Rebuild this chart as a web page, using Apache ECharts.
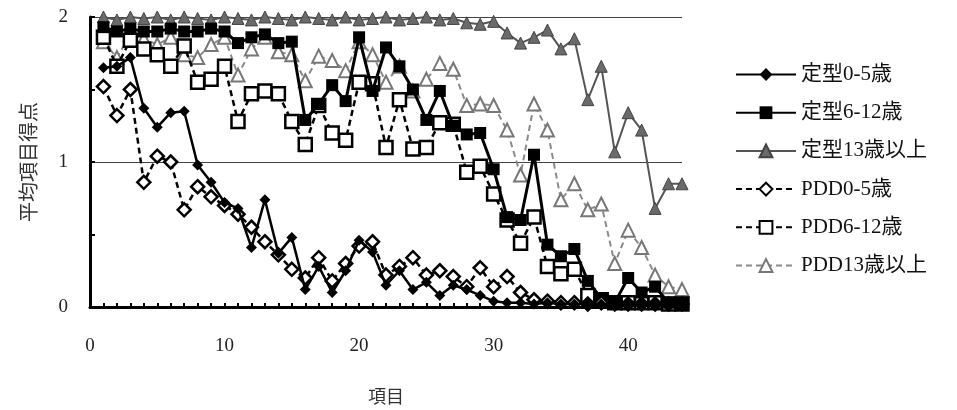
<!DOCTYPE html>
<html>
<head>
<meta charset="utf-8">
<script src="https://cdn.jsdelivr.net/npm/echarts@6/dist/echarts.min.js"></script>
<style>
  html, body { margin: 0; padding: 0; background: #fff; }
  #chart { width: 957px; height: 410px; }
</style>
</head>
<body>
<div id="chart"></div>
<script>
// Item numbers (x) and mean item scores (y) per group
const items = [1,2,3,4,5,6,7,8,9,10,11,12,13,14,15,16,17,18,19,20,21,22,23,24,25,26,27,28,29,30,31,32,33,34,35,36,37,38,39,40,41,42,43,44];

const typical0to5 = [1.65,1.66,1.72,1.37,1.24,1.34,1.35,0.98,0.86,0.72,0.68,0.41,0.74,0.37,0.48,0.12,0.28,0.10,0.25,0.46,0.38,0.15,0.25,0.12,0.17,0.08,0.15,0.12,0.08,0.04,0.03,0.03,0.02,0.03,0.02,0.02,0.02,0.02,0.02,0.02,0.02,0.02,0.02,0.02];
const typical6to12 = [1.93,1.90,1.92,1.90,1.90,1.92,1.90,1.90,1.92,1.90,1.82,1.86,1.88,1.82,1.83,1.29,1.40,1.53,1.42,1.86,1.49,1.79,1.66,1.50,1.29,1.49,1.25,1.19,1.20,0.95,0.62,0.60,1.05,0.43,0.35,0.40,0.18,0.06,0.03,0.20,0.10,0.14,0.03,0.02];
const typical13up = [2.00,1.98,2.00,1.99,2.00,1.98,2.00,1.99,1.98,2.00,1.99,1.98,2.00,1.99,1.98,2.00,1.99,1.98,2.00,1.98,1.99,2.00,1.98,1.99,2.00,1.98,1.99,1.96,1.95,1.97,1.89,1.82,1.86,1.91,1.78,1.85,1.43,1.66,1.07,1.34,1.22,0.68,0.85,0.85];
const pdd0to5 = [1.52,1.32,1.50,0.86,1.04,1.00,0.67,0.83,0.76,0.70,0.64,0.55,0.45,0.36,0.26,0.20,0.34,0.18,0.30,0.42,0.45,0.22,0.28,0.34,0.22,0.25,0.21,0.14,0.27,0.14,0.21,0.10,0.05,0.04,0.03,0.03,0.02,0.03,0.02,0.02,0.02,0.02,0.02,0.02];
const pdd6to12 = [1.86,1.66,1.84,1.78,1.74,1.66,1.80,1.55,1.57,1.66,1.28,1.47,1.49,1.47,1.28,1.12,1.39,1.20,1.15,1.55,1.54,1.10,1.43,1.09,1.10,1.27,1.26,0.93,0.97,0.78,0.60,0.44,0.62,0.28,0.23,0.26,0.08,0.05,0.03,0.03,0.03,0.03,0.02,0.02];
const pdd13up = [1.83,1.72,1.88,1.85,1.81,1.86,1.74,1.72,1.81,1.86,1.60,1.78,1.86,1.76,1.74,1.56,1.73,1.70,1.63,1.83,1.74,1.55,1.66,1.49,1.57,1.68,1.64,1.39,1.40,1.39,1.22,0.91,1.40,1.22,0.74,0.85,0.67,0.71,0.30,0.53,0.41,0.22,0.14,0.12];

const seriesNames = ['定型0-5歳', '定型6-12歳', '定型13歳以上', 'PDD0-5歳', 'PDD6-12歳', 'PDD13歳以上'];
const yTicks = [0, 1, 2];
const xTicks = [0, 10, 20, 30, 40];

const pairs = vals => items.map((x, i) => [x, vals[i]]);

const serif = '"Liberation Serif", "DejaVu Serif", "Noto Sans CJK JP", serif';

function lineSeries(name, vals, opts) {
  return Object.assign({
    name: name,
    type: 'line',
    data: pairs(vals),
    xAxisIndex: 0,
    yAxisIndex: 0,
    animation: false
  }, opts);
}

const chart = echarts.init(document.getElementById('chart'), null, { renderer: 'canvas' });

chart.setOption({
  backgroundColor: '#ffffff',
  animation: false,
  grid: { left: 90, top: 17, width: 592, height: 296, containLabel: false },
  legend: {
    orient: 'vertical',
    left: 730,
    top: 59,
    itemWidth: 60,
    itemHeight: 16,
    itemGap: 17.2,
    textStyle: { fontSize: 21, fontFamily: serif, color: '#111', lineHeight: 20 },
    data: seriesNames
  },
  xAxis: {
    type: 'value',
    min: 0,
    max: 44,
    interval: 1,
    axisLine: { show: true, lineStyle: { color: '#000', width: 3 } },
    axisTick: { show: true, inside: true, length: 4, lineStyle: { color: '#000', width: 2 } },
    splitLine: { show: false },
    axisLabel: {
      margin: 30,
      fontSize: 19,
      fontFamily: serif,
      color: '#222',
      formatter: v => (xTicks.indexOf(v) >= 0 ? String(v) : '')
    },
    name: '項目',
    nameLocation: 'middle',
    nameGap: 80,
    nameTextStyle: { fontSize: 18, fontFamily: '"Noto Sans CJK JP", sans-serif', color: '#333' }
  },
  yAxis: [
    {
      type: 'value',
      min: 0,
      max: 2,
      interval: 0.5,
      axisLine: { show: true, lineStyle: { color: '#000', width: 3 } },
      axisTick: { show: true, inside: true, length: 5, lineStyle: { color: '#000', width: 2 } },
      splitLine: { show: false },
      axisLabel: {
        margin: 22,
        fontSize: 19,
        fontFamily: serif,
        color: '#222',
        formatter: v => (yTicks.indexOf(v) >= 0 ? String(v) : '')
      },
      name: '平均項目得点',
      nameLocation: 'middle',
      nameRotate: 90,
      nameGap: 52,
      nameTextStyle: { fontSize: 20, fontFamily: '"Noto Sans CJK JP", sans-serif', color: '#333' }
    },
    {
      // gridlines at whole-point levels only
      type: 'value',
      min: 0,
      max: 2,
      interval: 1,
      position: 'left',
      axisLine: { show: false },
      axisTick: { show: false },
      axisLabel: { show: false },
      splitLine: { show: true, lineStyle: { color: '#444', width: 1 } }
    }
  ],
  series: [
    lineSeries(seriesNames[2], typical13up, {
      symbol: 'triangle', symbolSize: 12,
      lineStyle: { color: '#555', width: 2 },
      itemStyle: { color: '#6a6a6a', borderColor: '#444', borderWidth: 1 },
      z: 2
    }),
    lineSeries(seriesNames[5], pdd13up, {
      symbol: 'triangle', symbolSize: 13,
      lineStyle: { color: '#8a8a8a', width: 2, type: [6, 4] },
      itemStyle: { color: '#ffffff', borderColor: '#777', borderWidth: 2 },
      z: 3
    }),
    lineSeries(seriesNames[4], pdd6to12, {
      symbol: 'rect', symbolSize: 13,
      lineStyle: { color: '#000', width: 2.5, type: [6, 4] },
      itemStyle: { color: '#ffffff', borderColor: '#000', borderWidth: 2.5 },
      z: 4
    }),
    lineSeries(seriesNames[1], typical6to12, {
      symbol: 'rect', symbolSize: 12,
      lineStyle: { color: '#000', width: 3 },
      itemStyle: { color: '#000', borderColor: '#000', borderWidth: 0 },
      z: 5
    }),
    lineSeries(seriesNames[3], pdd0to5, {
      symbol: 'diamond', symbolSize: 13,
      lineStyle: { color: '#000', width: 2.5, type: [6, 4] },
      itemStyle: { color: '#ffffff', borderColor: '#000', borderWidth: 2.5 },
      z: 6
    }),
    lineSeries(seriesNames[0], typical0to5, {
      symbol: 'diamond', symbolSize: 11,
      lineStyle: { color: '#000', width: 2.5 },
      itemStyle: { color: '#000', borderColor: '#000', borderWidth: 0 },
      z: 7
    })
  ]
});
</script>
</body>
</html>
